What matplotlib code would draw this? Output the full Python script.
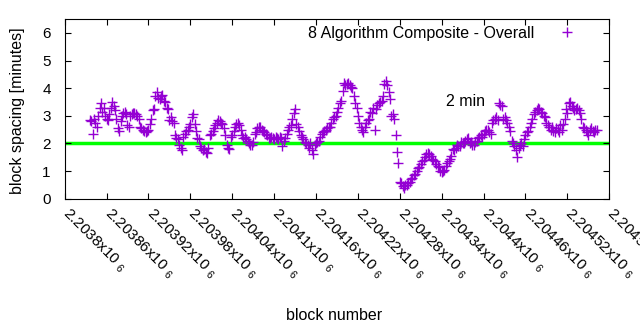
import numpy as np
import matplotlib.pyplot as plt

plt.rcParams['font.family'] = ['Liberation Sans', 'DejaVu Sans']
plt.rcParams['mathtext.fontset'] = 'custom'
plt.rcParams['mathtext.rm'] = 'Liberation Sans'

# block spacing, every 4th block starting at first_block
first_block = 2203836
block_step = 4
spacing = [
    2.85, 2.35, 2.75, 3.0, 3.45, 3.3, 2.9, 3.05, 3.5, 3.2,
    2.55, 2.8, 3.1, 3.05, 2.6, 3.05, 3.1, 3.0, 2.6, 2.5,
    2.4, 2.5, 2.9, 3.25, 3.85, 3.6, 3.75, 3.5, 3.25, 2.95,
    2.75, 2.2, 1.95, 1.75, 2.35, 2.5, 2.7, 3.05, 2.45, 2.15,
    1.85, 1.8, 1.65, 2.3, 2.45, 2.65, 2.85, 2.75, 2.55, 1.95,
    1.8, 2.3, 2.6, 2.75, 2.5, 2.2, 2.15, 2.0, 1.95, 2.35,
    2.55, 2.6, 2.45, 2.35, 2.2, 2.25, 2.15, 2.2, 2.25, 1.9,
    2.2, 2.5, 2.65, 3.1, 2.7, 2.45, 2.25, 2.05, 1.95, 2.0,
    1.6, 2.0, 2.1, 2.35, 2.45, 2.55, 2.6, 2.9, 3.0, 3.3,
    3.55, 4.2, 4.15, 4.1, 4.0, 3.45, 3.0, 2.6, 2.4, 2.75,
    2.9, 3.1, 2.5, 3.4, 3.5, 3.7, 4.25, 3.85, 3.0, 2.9,
    1.7, 0.6, 0.45, 0.5, 0.55, 0.7, 0.85, 1.0, 1.15, 1.35,
    1.5, 1.65, 1.55, 1.4, 1.25, 1.15, 0.95, 1.05, 1.3, 1.45,
    1.8, 1.85, 1.9, 2.05, 2.0, 2.15, 2.0, 1.95, 2.05, 2.2,
    2.3, 2.35, 2.5, 2.4, 2.75, 2.9, 2.85, 3.4, 2.9, 2.85,
    2.6, 2.1, 1.9, 1.5, 1.95, 1.9, 2.3, 2.45, 2.75, 3.05,
    3.2, 3.25, 3.1, 2.95, 2.65, 2.5, 2.45, 2.55, 2.4, 2.5,
    2.9, 3.1, 3.5, 3.3, 3.25, 3.2, 2.9, 2.55, 2.4, 2.5,
    2.45, 2.5,
]
# the blocks in between (first_block + 2, every 4th)
spacing_mid = [
    2.8, 2.9, 2.6, 3.3, 3.15, 3.0, 2.85, 3.3, 3.35, 2.9,
    2.45, 3.0, 3.15, 2.65, 3.0, 3.1, 3.05, 2.9, 2.55, 2.45,
    2.45, 2.7, 3.2, 3.7, 3.65, 3.7, 3.55, 3.3, 2.85, 2.8,
    2.3, 2.15, 1.85, 2.25, 2.45, 2.6, 2.95, 2.7, 2.2, 1.9,
    1.75, 1.7, 1.85, 2.35, 2.55, 2.75, 2.8, 2.7, 2.3, 1.85,
    2.25, 2.45, 2.7, 2.65, 2.3, 2.25, 2.1, 1.95, 2.05, 2.4,
    2.6, 2.5, 2.4, 2.3, 2.2, 2.2, 2.25, 2.15, 2.2, 2.1,
    2.35, 2.6, 2.9, 3.25, 2.6, 2.3, 2.15, 2.0, 1.85, 1.75,
    1.95, 2.05, 2.25, 2.4, 2.5, 2.6, 2.75, 2.95, 3.15, 3.45,
    3.9, 4.1, 4.2, 4.05, 3.7, 3.3, 2.75, 2.5, 2.6, 2.85,
    3.15, 3.3, 3.25, 3.45, 3.55, 4.15, 4.1, 3.6, 3.05, 2.3,
    1.3, 0.55, 0.4, 0.5, 0.6, 0.75, 0.9, 1.1, 1.25, 1.4,
    1.6, 1.6, 1.45, 1.35, 1.2, 1.0, 1.0, 1.2, 1.35, 1.55,
    1.75, 1.95, 1.9, 2.0, 2.1, 2.2, 2.05, 1.95, 2.1, 2.25,
    2.25, 2.45, 2.5, 2.35, 2.85, 2.95, 3.45, 3.35, 2.95, 2.75,
    2.45, 2.0, 1.75, 1.85, 2.0, 2.15, 2.4, 2.6, 2.9, 3.15,
    3.3, 3.15, 3.0, 2.75, 2.6, 2.6, 2.4, 2.5, 2.65, 2.7,
    3.25, 3.45, 3.35, 3.2, 3.3, 3.1, 2.6, 2.5, 2.3, 2.55,
    2.4, 2.5,
]
target = 2

xticks = [2203800 + 60 * k for k in range(14)]
xticklabels = ['2.2038', '2.20386', '2.20392', '2.20398', '2.20404', '2.2041',
               '2.20416', '2.20422', '2.20428', '2.20434', '2.2044', '2.20446',
               '2.20452', '2.20458']

blocks = first_block + block_step * np.arange(len(spacing))
blocks_mid = first_block + 2 + block_step * np.arange(len(spacing_mid))
x_all = np.concatenate([blocks, blocks_mid])
y_all = np.concatenate([spacing, spacing_mid])

fig = plt.figure(figsize=(6.4, 3.3), dpi=100)
ax = fig.add_axes([0.101, 0.398, 0.851, 0.544])

ax.axhline(target, xmin=0.004, xmax=0.996, color='#00ff00', lw=2.5, zorder=1)
ax.plot(x_all, y_all, ls='none', marker='+', ms=6.5, mew=1.0,
        color='#9400d3', label='8 Algorithm Composite - Overall', zorder=2)

ax.set_xlim(2203800, 2204580)
ax.set_ylim(0, 6.5)
ax.set_yticks(range(7))
ax.set_xticks(xticks)
ax.set_xticklabels([s + r'x10 $_{6}$' for s in xticklabels])
ax.tick_params(direction='in', length=4, width=0.8, top=True, right=True,
               labelsize=11, colors='black')
ax.tick_params(axis='y', pad=10)
ax.tick_params(axis='x', pad=9)
for lab in ax.get_xticklabels():
    lab.set(rotation=-45, ha='left', va='center', rotation_mode='anchor')

ax.text(2204346, 3.5, '2 min', fontsize=11.5, ha='left', va='center')
ax.legend(loc='upper right', bbox_to_anchor=(0.979, 0.98), borderaxespad=0,
          borderpad=0.2, frameon=False, markerfirst=False, handlelength=3.4,
          handletextpad=0.4, fontsize=11.5)

fig.text(18 / 640, 1 - 111 / 330, 'block spacing [minutes]', rotation=90,
         ha='center', va='center', fontsize=11.5)
fig.text(334 / 640, 1 - 316 / 330, 'block number', ha='center', va='center',
         fontsize=11.5)

fig.savefig('out.png', dpi=100)
